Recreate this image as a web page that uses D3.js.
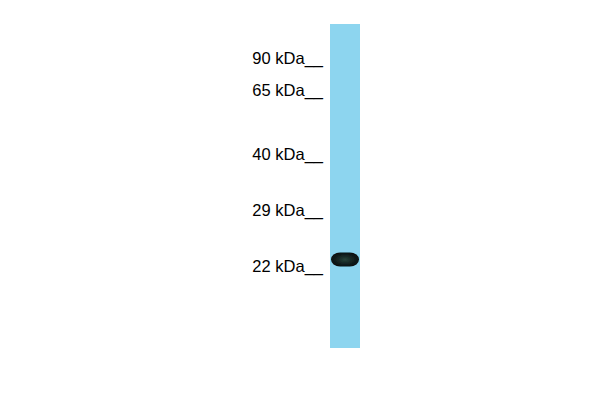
<!DOCTYPE html>
<html>
<head>
<meta charset="utf-8">
<script src="https://cdn.jsdelivr.net/npm/d3@7"></script>
<style>
  html, body { margin: 0; padding: 0; background: #fff; }
</style>
</head>
<body>
<div id="blot"></div>
<script>
// molecular weight markers (kDa) and their migration as a fraction of lane length
const markerLabels = ['90 kDa', '65 kDa', '40 kDa', '29 kDa', '22 kDa'];
const markerMigration = [0.105, 0.204, 0.401, 0.574, 0.747];

// detected bands in the single sample lane
const bandMigration = [0.727];
const bandIntensity = [1.0];

const width = 600, height = 400;
const laneX = 330, laneW = 30;

const svg = d3.select('#blot').append('svg')
    .attr('width', width)
    .attr('height', height);

const y = d3.scaleLinear()
    .domain([0, 1])
    .range([24, 348]);

const defs = svg.append('defs');
defs.append('filter')
    .attr('id', 'soft')
    .attr('x', '-20%').attr('y', '-40%')
    .attr('width', '140%').attr('height', '180%')
    .append('feGaussianBlur')
    .attr('stdDeviation', 0.5);

const core = defs.append('radialGradient').attr('id', 'bandCore');
core.append('stop').attr('offset', '0%').attr('stop-color', '#274238');
core.append('stop').attr('offset', '55%').attr('stop-color', '#142422');
core.append('stop').attr('offset', '100%').attr('stop-color', '#0a1010');

// lane
svg.append('rect')
    .attr('x', laneX)
    .attr('y', y(0))
    .attr('width', laneW)
    .attr('height', y(1) - y(0))
    .attr('fill', '#8dd5ef');

// marker labels with tick underscores
svg.append('g')
    .attr('font-family', 'Arial, "Liberation Sans", sans-serif')
    .attr('font-size', 16.5)
    .attr('fill', '#000')
    .selectAll('text')
    .data(markerLabels)
    .enter()
    .append('text')
    .attr('x', 323)
    .attr('y', (d, i) => y(markerMigration[i]) + 6)
    .attr('text-anchor', 'end')
    .text(d => d + '__');

// bands
svg.append('g')
    .selectAll('rect')
    .data(bandMigration)
    .enter()
    .append('rect')
    .attr('x', laneX + 1)
    .attr('y', d => y(d) - 7)
    .attr('width', laneW - 2)
    .attr('height', 14)
    .attr('rx', 9)
    .attr('ry', 7)
    .attr('fill', 'url(#bandCore)')
    .attr('opacity', (d, i) => bandIntensity[i])
    .attr('filter', 'url(#soft)');
</script>
</body>
</html>
